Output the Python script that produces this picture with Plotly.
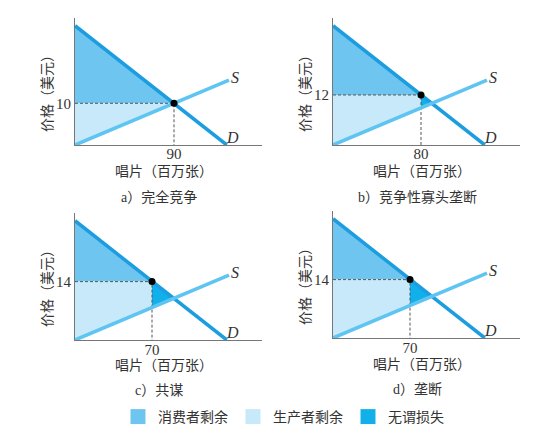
import plotly.graph_objects as go

# ---- data ----
quantities = [90, 80, 70, 70]          # market output (million records)
prices = [10, 12, 14, 14]              # market price (dollars)
qty_tick_labels = ["90", "80", "70", "70"]
price_tick_labels = ["10", "12", "14", "14"]
subtitles = ["a）完全竞争", "b）竞争性寡头垄断", "c）共谋", "d）垄断"]
demand_price_intercept = 28.6
demand_qty_intercept = 138
supply_slope = 1 / 9
supply_qty_end = 140
legend_names = ["消费者剩余", "生产者剩余", "无谓损失"]

# ---- styling / layout ----
W, H = 554, 440
SX, SY = 1.1, 4.17            # px per unit
AXW, AXH = 187, 127           # axis lengths in px
origins = [(75, 145), (333, 145), (75, 340), (333, 338)]
tick_standoff = [-5, -5, -4, -4]
xtitle_gap = [27, 27, 25, 26]
subtitle_gap = [52, 52, 50, 51]
CS_COL = "#6ec6f0"
PS_COL = "#c8e9f9"
DWL_COL = "#12b0ea"
D_COL = "#1b9de0"
S_COL = "#5ec4f2"
TXT = "#333333"
CJK = "Liberation Serif, Noto Sans CJK SC"

def demand(q):
    return demand_price_intercept * (1 - q / demand_qty_intercept)

def supply(q):
    return supply_slope * q

# competitive intersection of the two lines
qc = demand_price_intercept / (supply_slope + demand_price_intercept / demand_qty_intercept)
pc = supply(qc)

fig = go.Figure()
layout = dict(width=W, height=H, margin=dict(l=0, r=0, t=0, b=0),
              paper_bgcolor="white", plot_bgcolor="white", showlegend=True)
annotations = []

def px_annot(x, y, text, **extra):
    d = dict(x=x / W, y=1 - y / H, xref="paper", yref="paper", text=text, showarrow=False,
             xanchor="center", yanchor="middle", font=dict(family=CJK, size=14, color=TXT))
    d.update(extra)
    return d

for i, (ox, oy) in enumerate(origins):
    n = i + 1
    xa = "x" if n == 1 else f"x{n}"
    ya = "y" if n == 1 else f"y{n}"
    qm, pm = quantities[i], prices[i]
    kw = dict(xaxis=xa, yaxis=ya, showlegend=False, hoverinfo="skip")

    # consumer surplus
    fig.add_trace(go.Scatter(x=[0, qm, 0, 0], y=[demand_price_intercept, pm, pm, demand_price_intercept],
                             fill="toself", fillcolor=CS_COL, mode="lines", line=dict(width=0), **kw))
    # producer surplus
    fig.add_trace(go.Scatter(x=[0, qm, qm, 0, 0], y=[pm, pm, supply(qm), 0, pm],
                             fill="toself", fillcolor=PS_COL, mode="lines", line=dict(width=0), **kw))
    # deadweight loss
    if qm < qc - 1:
        fig.add_trace(go.Scatter(x=[qm, qc, qm, qm], y=[pm, pc, supply(qm), pm],
                                 fill="toself", fillcolor=DWL_COL, mode="lines", line=dict(width=0), **kw))
    # dashed guides
    fig.add_trace(go.Scatter(x=[0, qm, qm], y=[pm, pm, 0], mode="lines",
                             line=dict(color="#555555", width=1, dash="3px,2px"), **kw))
    # demand & supply
    fig.add_trace(go.Scatter(x=[0, demand_qty_intercept], y=[demand_price_intercept, 0], mode="lines",
                             line=dict(color=D_COL, width=3.5), **kw))
    fig.add_trace(go.Scatter(x=[0, supply_qty_end], y=[0, supply(supply_qty_end)], mode="lines",
                             line=dict(color=S_COL, width=3.5), **kw))
    # market point
    fig.add_trace(go.Scatter(x=[qm], y=[pm], mode="markers",
                             marker=dict(color="black", size=7), **kw))

    xdom = [ox / W, (ox + AXW) / W]
    ydom = [1 - oy / H, 1 - (oy - AXH) / H]
    axcommon = dict(showgrid=False, zeroline=False, showline=True, linecolor="#777777",
                    linewidth=1, ticks="", fixedrange=True,
                    tickfont=dict(family="Liberation Serif", size=15, color=TXT))
    layout["xaxis" if n == 1 else f"xaxis{n}"] = dict(
        domain=xdom, range=[0, AXW / SX], anchor=ya, ticklabelstandoff=tick_standoff[i],
        tickvals=[qm], ticktext=[qty_tick_labels[i]], **axcommon)
    layout["yaxis" if n == 1 else f"yaxis{n}"] = dict(
        domain=ydom, range=[0, AXH / SY], anchor=xa,
        tickvals=[pm], ticktext=[price_tick_labels[i]], **axcommon)

    # S / D labels
    annotations.append(dict(x=145.5, y=16.1, xref=xa, yref=ya, text="<i>S</i>", showarrow=False,
                            xanchor="center", yanchor="middle",
                            font=dict(family="Liberation Serif", size=16, color=TXT)))
    annotations.append(dict(x=143.6, y=1.7, xref=xa, yref=ya, text="<i>D</i>", showarrow=False,
                            xanchor="center", yanchor="middle",
                            font=dict(family="Liberation Serif", size=16, color=TXT)))
    # axis titles
    annotations.append(px_annot(ox + 89, oy + xtitle_gap[i], "唱片（百万张）"))
    annotations.append(px_annot(ox - 28, oy - 55, "价格（美元）", textangle=-90))
    # subtitle
    annotations.append(px_annot(ox + 84, oy + subtitle_gap[i], subtitles[i]))

# legend entries
for name, col in zip(legend_names, [CS_COL, PS_COL, DWL_COL]):
    fig.add_trace(go.Scatter(x=[None], y=[None], mode="markers", name=name,
                             marker=dict(symbol="square", size=15, color=col),
                             xaxis="x", yaxis="y", showlegend=True))

layout["legend"] = dict(orientation="h", x=118 / W, y=1 - 417 / H, xanchor="left", yanchor="middle",
                        font=dict(family=CJK, size=14, color=TXT), bgcolor="rgba(0,0,0,0)",
                        itemclick=False, itemdoubleclick=False)
layout["annotations"] = annotations
fig.update_layout(**layout)
fig.write_html("out.html", config={"displayModeBar": False},
               post_script="document.body.style.margin='0';")
